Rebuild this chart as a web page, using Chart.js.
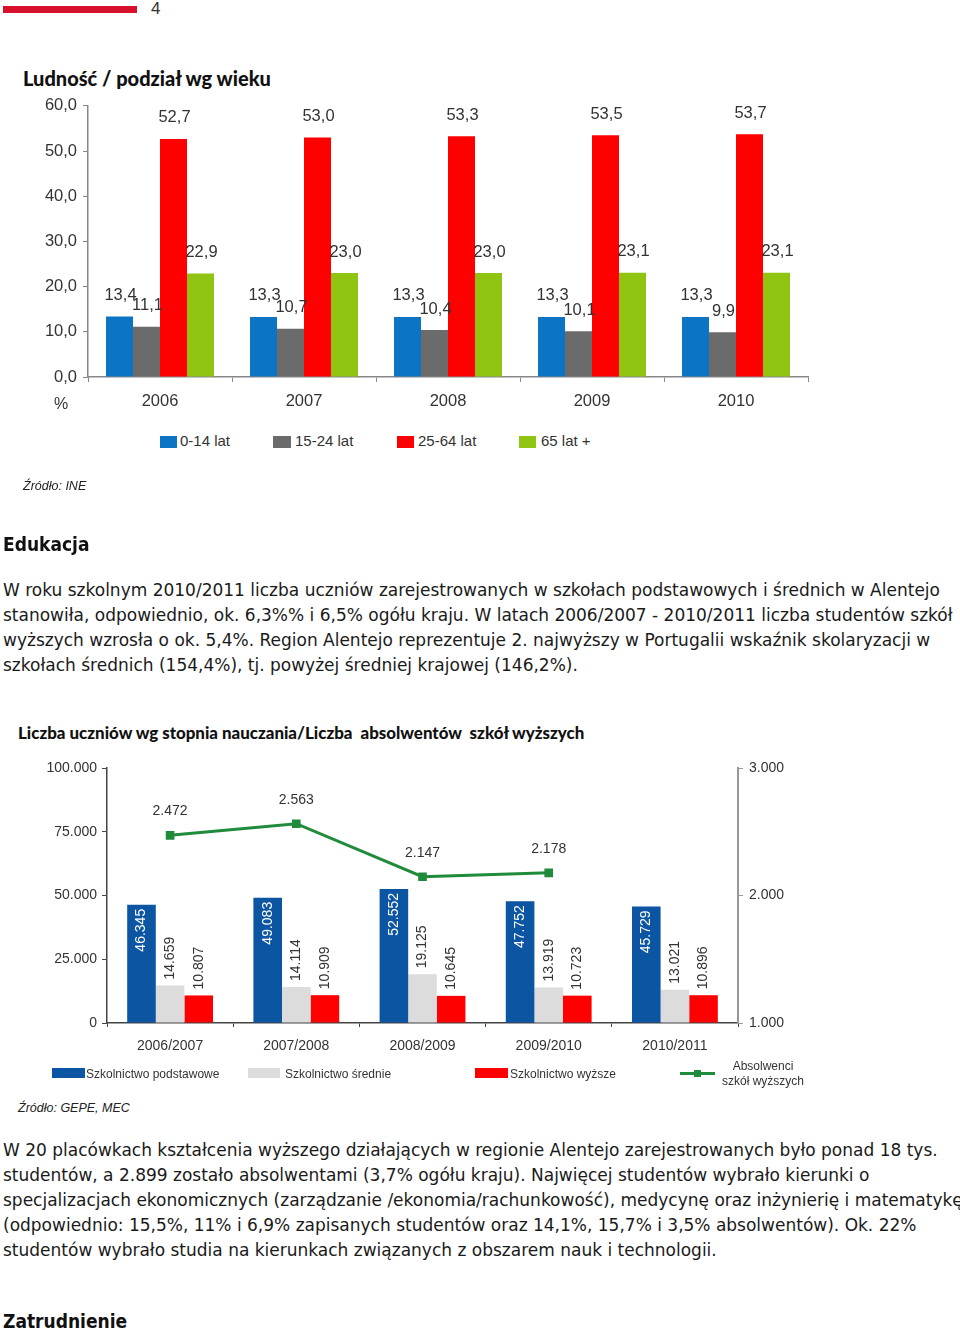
<!DOCTYPE html>
<html>
<head>
<meta charset="utf-8">
<script src="https://cdn.jsdelivr.net/npm/chart.js"></script>
<style>
  html, body { margin: 0; padding: 0; background: #fff; }
  body { width: 960px; height: 1331px; position: relative; overflow: hidden; color: #222; }
  .abs { position: absolute; white-space: pre; }
  .para { font-family: "DejaVu Sans", sans-serif; font-size: 17px; line-height: 25px; left: 3px; color: #1a1a1a; }
  .head { font-family: "DejaVu Sans Condensed", "DejaVu Sans", sans-serif; font-weight: bold; font-size: 19px; line-height: 24px; left: 3px; color: #111; }
  .ctitle { font-family: Lato, sans-serif; font-weight: 900; color: #111; }
  .leg { font-family: "Liberation Sans", Arial, sans-serif; color: #333; }
  .src { font-family: "Liberation Sans", Arial, sans-serif; font-style: italic; font-size: 12.5px; color: #222; }
  canvas { position: absolute; left: 0; }
</style>
</head>
<body>
<div class="abs" style="left:3px;top:6px;width:134px;height:7px;background:#d7112b;"></div>
<div class="abs leg" style="left:151px;top:-1px;font-size:17px;line-height:20px;">4</div>

<div class="abs ctitle" style="left:23px;top:66px;font-size:20px;line-height:24px;">Ludność / podział wg wieku</div>
<canvas id="ageChart" width="830" height="330" style="top:90px;"></canvas>
<div class="abs leg" style="left:54px;top:394px;font-size:16px;line-height:20px;">%</div>

<div class="abs" style="left:160px;top:436px;width:17px;height:12px;background:#0b74c4;"></div>
<div class="abs leg" style="left:180px;top:431px;font-size:15px;line-height:20px;">0-14 lat</div>
<div class="abs" style="left:273px;top:436px;width:18px;height:12px;background:#6b6b6b;"></div>
<div class="abs leg" style="left:295px;top:431px;font-size:15px;line-height:20px;">15-24 lat</div>
<div class="abs" style="left:397px;top:436px;width:17px;height:12px;background:#ff0000;"></div>
<div class="abs leg" style="left:418px;top:431px;font-size:15px;line-height:20px;">25-64 lat</div>
<div class="abs" style="left:519px;top:436px;width:17px;height:12px;background:#8fc412;"></div>
<div class="abs leg" style="left:541px;top:431px;font-size:15px;line-height:20px;">65 lat +</div>

<div class="abs src" style="left:23px;top:478px;line-height:16px;">Źródło: INE</div>

<div class="abs head" style="top:532px;">Edukacja</div>
<div class="abs para" style="top:578px;">W roku szkolnym 2010/2011 liczba uczniów zarejestrowanych w szkołach podstawowych i średnich w Alentejo
stanowiła, odpowiednio, ok. 6,3%% i 6,5% ogółu kraju. W latach 2006/2007 - 2010/2011 liczba studentów szkół
wyższych wzrosła o ok. 5,4%. Region Alentejo reprezentuje 2. najwyższy w Portugalii wskaźnik skolaryzacji w
szkołach średnich (154,4%), tj. powyżej średniej krajowej (146,2%).</div>

<div class="abs ctitle" style="left:18px;top:723px;font-size:16.9px;line-height:20px;">Liczba uczniów wg stopnia nauczania/Liczba  absolwentów  szkół wyższych</div>
<canvas id="eduChart" width="830" height="310" style="top:750px;"></canvas>

<div class="abs" style="left:52px;top:1068px;width:33px;height:10px;background:#0c55a2;"></div>
<div class="abs leg" style="left:86px;top:1066px;font-size:12px;line-height:16px;">Szkolnictwo podstawowe</div>
<div class="abs" style="left:248px;top:1068px;width:32px;height:10px;background:#dcdcdc;"></div>
<div class="abs leg" style="left:285px;top:1066px;font-size:12px;line-height:16px;">Szkolnictwo średnie</div>
<div class="abs" style="left:475px;top:1068px;width:33px;height:10px;background:#ff0000;"></div>
<div class="abs leg" style="left:510px;top:1066px;font-size:12px;line-height:16px;">Szkolnictwo wyższe</div>
<div class="abs" style="left:680px;top:1072px;width:35px;height:3px;background:#1f8b3b;"></div>
<div class="abs" style="left:694px;top:1070px;width:7px;height:7px;background:#1f8b3b;"></div>
<div class="abs leg" style="left:718px;top:1059px;font-size:12px;line-height:15px;text-align:center;width:90px;">Absolwenci
szkół wyższych</div>

<div class="abs src" style="left:18px;top:1100px;line-height:16px;">Źródło: GEPE, MEC</div>

<div class="abs para" style="top:1138px;">W 20 placówkach kształcenia wyższego działających w regionie Alentejo zarejestrowanych było ponad 18 tys.
studentów, a 2.899 zostało absolwentami (3,7% ogółu kraju). Najwięcej studentów wybrało kierunki o
specjalizacjach ekonomicznych (zarządzanie /ekonomia/rachunkowość), medycynę oraz inżynierię i matematykę
(odpowiednio: 15,5%, 11% i 6,9% zapisanych studentów oraz 14,1%, 15,7% i 3,5% absolwentów). Ok. 22%
studentów wybrało studia na kierunkach związanych z obszarem nauk i technologii.</div>

<div class="abs head" style="top:1309px;">Zatrudnienie</div>

<script>
// --- chart 1: ludność wg wieku ---
const years = ['2006', '2007', '2008', '2009', '2010'];
const age0_14 = [13.4, 13.3, 13.3, 13.3, 13.3];
const age15_24 = [11.1, 10.7, 10.4, 10.1, 9.9];
const age25_64 = [52.7, 53.0, 53.3, 53.5, 53.7];
const age65plus = [22.9, 23.0, 23.0, 23.1, 23.1];

// --- chart 2: uczniowie / absolwenci ---
const schoolYears = ['2006/2007', '2007/2008', '2008/2009', '2009/2010', '2010/2011'];
const primary = [46345, 49083, 52552, 47752, 45729];
const secondary = [14659, 14114, 19125, 13919, 13021];
const higher = [10807, 10909, 10645, 10723, 10896];
const graduates = [2472, 2563, 2147, 2178, null];

const labelFont = '"Liberation Sans", Arial, sans-serif';

function commaFmt(v) {
	return v.toFixed(1).replace('.', ',');
}
function dotFmt(v) {
	return Math.round(v).toString().replace(/\B(?=(\d{3})+(?!\d))/g, '.');
}

const ageLabels = {
	id: 'ageLabels',
	afterDatasetsDraw(chart) {
		const ctx = chart.ctx;
		ctx.save();
		ctx.font = '16.5px ' + labelFont;
		ctx.fillStyle = '#333';
		ctx.textAlign = 'center';
		ctx.textBaseline = 'middle';
		chart.data.datasets.forEach((ds, i) => {
			chart.getDatasetMeta(i).data.forEach((el, j) => {
				ctx.fillText(commaFmt(ds.data[j]), el.x + 1, el.y - 21);
			});
		});
		ctx.restore();
	}
};

const eduLabels = {
	id: 'eduLabels',
	afterDatasetsDraw(chart) {
		const ctx = chart.ctx;
		ctx.save();
		ctx.font = '14px ' + labelFont;
		ctx.textBaseline = 'middle';
		chart.data.datasets.forEach((ds, i) => {
			const meta = chart.getDatasetMeta(i);
			meta.data.forEach((el, j) => {
				const v = ds.data[j];
				if (v == null) return;
				if (ds.type === 'line') {
					ctx.fillStyle = '#333';
					ctx.textAlign = 'center';
					ctx.fillText(dotFmt(v), el.x, el.y - 24);
					return;
				}
				ctx.save();
				if (i === 0) {
					ctx.translate(el.x, el.y + 4);
					ctx.rotate(-Math.PI / 2);
					ctx.textAlign = 'right';
					ctx.fillStyle = '#fff';
				} else {
					ctx.translate(el.x, el.y - 6);
					ctx.rotate(-Math.PI / 2);
					ctx.textAlign = 'left';
					ctx.fillStyle = '#333';
				}
				ctx.fillText(dotFmt(v), 0, 0);
				ctx.restore();
			});
		});
		ctx.restore();
	}
};

new Chart(document.getElementById('ageChart'), {
	type: 'bar',
	data: {
		labels: years,
		datasets: [
			{ label: '0-14 lat', data: age0_14, backgroundColor: '#0b74c4' },
			{ label: '15-24 lat', data: age15_24, backgroundColor: '#6b6b6b' },
			{ label: '25-64 lat', data: age25_64, backgroundColor: '#ff0000' },
			{ label: '65 lat +', data: age65plus, backgroundColor: '#8fc412' }
		]
	},
	options: {
		responsive: false,
		animation: false,
		layout: { padding: { top: 14, right: 22, left: 0, bottom: 0 } },
		datasets: { bar: { categoryPercentage: 0.75, barPercentage: 1 } },
		plugins: { legend: { display: false }, tooltip: { enabled: false } },
		scales: {
			x: {
				grid: { display: true, drawOnChartArea: false, tickLength: 5, color: '#888' },
				border: { color: '#888', width: 1.5 },
				ticks: { color: '#333', padding: 10, font: { family: labelFont, size: 16.5 } },
				afterFit(s) { s.height = 43; }
			},
			y: {
				min: 0, max: 60,
				grid: { display: true, drawOnChartArea: false, tickLength: 5, color: '#888' },
				border: { color: '#888', width: 1.5 },
				ticks: { stepSize: 10, color: '#333', padding: 6, font: { family: labelFont, size: 16.5 },
					callback: v => commaFmt(v) },
				afterFit(s) { s.width = 88; }
			}
		}
	},
	plugins: [ageLabels]
});

new Chart(document.getElementById('eduChart'), {
	type: 'bar',
	data: {
		labels: schoolYears,
		datasets: [
			{ label: 'Szkolnictwo podstawowe', data: primary, backgroundColor: '#0c55a2', order: 1 },
			{ label: 'Szkolnictwo średnie', data: secondary, backgroundColor: '#dcdcdc', order: 1 },
			{ label: 'Szkolnictwo wyższe', data: higher, backgroundColor: '#ff0000', order: 1 },
			{ type: 'line', label: 'Absolwenci szkół wyższych', data: graduates, yAxisID: 'y2',
				borderColor: '#1f8b3b', backgroundColor: '#1f8b3b', borderWidth: 3,
				pointStyle: 'rect', pointRadius: 4, spanGaps: false, order: 0 }
		]
	},
	options: {
		responsive: false,
		animation: false,
		layout: { padding: { top: 18, right: 0, left: 0, bottom: 0 } },
		datasets: { bar: { categoryPercentage: 0.68, barPercentage: 1 } },
		plugins: { legend: { display: false }, tooltip: { enabled: false } },
		scales: {
			x: {
				grid: { display: true, drawOnChartArea: false, tickLength: 4, color: '#444' },
				border: { color: '#444', width: 1.5 },
				ticks: { color: '#333', padding: 11, font: { family: labelFont, size: 14 } },
				afterFit(s) { s.height = 37; }
			},
			y: {
				min: 0, max: 100000,
				grid: { display: true, drawOnChartArea: false, tickLength: 5, color: '#444' },
				border: { color: '#444', width: 1.5 },
				ticks: { stepSize: 25000, color: '#333', padding: 5, font: { family: labelFont, size: 14 },
					callback: v => dotFmt(v) },
				afterFit(s) { s.width = 107; }
			},
			y2: {
				position: 'right',
				min: 1000, max: 3000,
				grid: { display: true, drawOnChartArea: false, tickLength: 5, color: '#999' },
				border: { color: '#999', width: 2 },
				ticks: { stepSize: 1000, color: '#333', padding: 6, font: { family: labelFont, size: 14 },
					callback: v => dotFmt(v) },
				afterFit(s) { s.width = 92; }
			}
		}
	},
	plugins: [eduLabels]
});
</script>
</body>
</html>
